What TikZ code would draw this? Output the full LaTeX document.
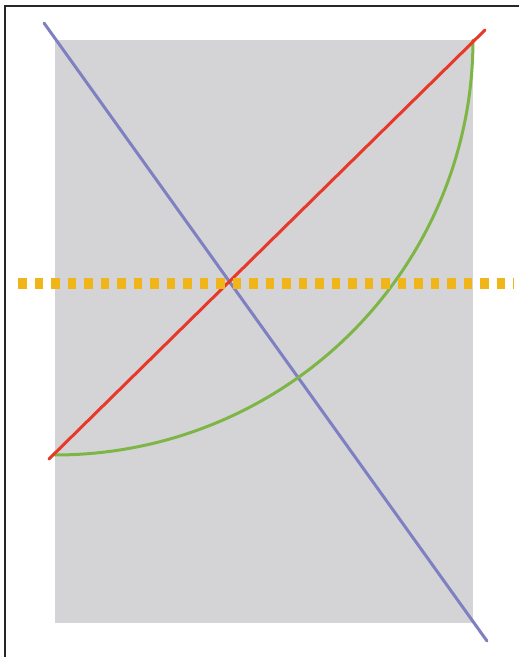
\documentclass[tikz,border=0pt]{standalone}
\usepackage{tikz}
\usetikzlibrary{positioning,calc}
\usepackage{xcolor}
\definecolor{paper}{HTML}{D4D4D6}
\definecolor{diagblue}{HTML}{7E80C2}
\definecolor{diagred}{HTML}{E8382A}
\definecolor{arcgreen}{HTML}{7DB646}
\definecolor{golden}{HTML}{F0B519}

\begin{document}
\begin{tikzpicture}[
    x=1pt, y=-1pt,
    frame/.style={draw=black!85, line width=2.8pt},
    sheet/.style={fill=paper},
    diag/.style={line width=3pt, line cap=round},
    axis/.style={draw=golden, line width=11pt, dash pattern=on 8.5pt off 8pt}
]
    \useasboundingbox (0,0) rectangle (519,657);

    % Cornice
    \draw[frame] (5,657) -- (5,6) -- (519,6);

    % Foglio grigio
    \fill[sheet] (55,40) rectangle (473,623);

    % Diagonali
    \coordinate (blueA) at (44,23);
    \coordinate (blueB) at (487,641);
    \coordinate (redA) at (49,459);
    \coordinate (redB) at (485,30);
    \draw[diag, diagblue] (blueA) -- (blueB);

    % Arco (quarto di ellisse centrato nell'angolo del foglio)
    \draw[diag, arcgreen] plot[domain=0:90, samples=80, smooth] ({55+418*sin(\x)}, {40+415*cos(\x)});

    \draw[diag, diagred] (redA) -- (redB);

    % Linea tratteggiata
    \coordinate (dotA) at (18,283);
    \coordinate (dotB) at (514,283);
    \draw[axis] (dotA) -- (dotB);

\end{tikzpicture}
\end{document}
